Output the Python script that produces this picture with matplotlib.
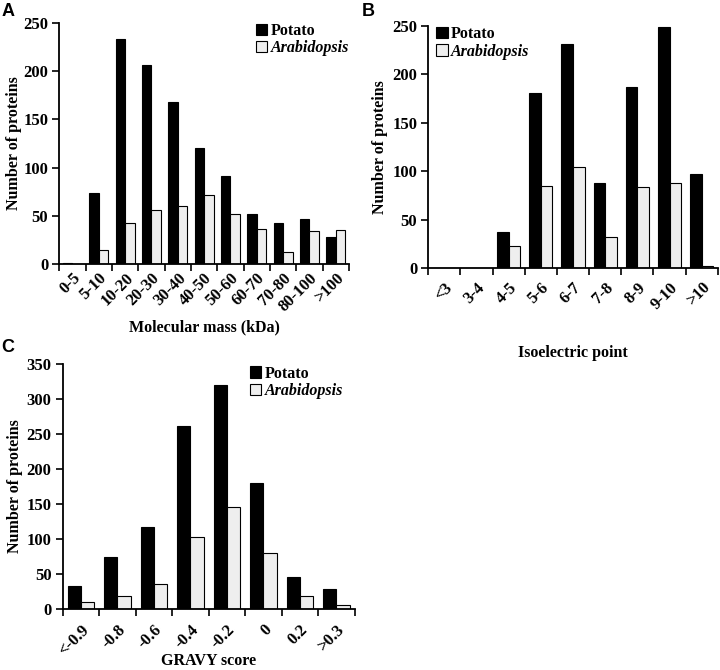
import matplotlib
matplotlib.use("Agg")
import matplotlib.pyplot as plt
import numpy as np
from matplotlib.patches import Patch

# ---------------- data ----------------
mass_cats = ["0-5", "5-10", "10-20", "20-30", "30-40", "40-50", "50-60",
             "60-70", "70-80", "80-100", ">100"]
mass_potato = [1, 74, 233, 206, 168, 120, 91, 52, 43, 47, 28]
mass_arab = [0, 15, 43, 56, 60, 72, 52, 37, 13, 34, 35]

pi_cats = ["<3", "3-4", "4-5", "5-6", "6-7", "7-8", "8-9", "9-10", ">10"]
pi_potato = [0, 0, 37, 181, 231, 88, 187, 249, 97]
pi_arab = [0, 0, 23, 85, 105, 32, 84, 88, 2]

gravy_cats = ["<-0.9", "-0.8", "-0.6", "-0.4", "-0.2", "0", "0.2", ">0.3"]
gravy_potato = [33, 74, 117, 261, 321, 180, 45, 28]
gravy_arab = [10, 18, 35, 102, 146, 80, 18, 6]

series_names = ["Potato", "Arabidopsis"]

SERIF = "Liberation Serif"
GRAY = "#eeeeee"

fig = plt.figure(figsize=(7.2, 6.7), dpi=100)


def panel(rect, cats, pot, arab, ymax, ystep, xlabel, letter, letter_pos,
          leg_anchor, leg_loc, xpad, xlab_y, ylab_x):
    ax = fig.add_axes(rect)
    n = len(cats)
    x = np.arange(n)
    w = 0.36
    ax.bar(x - w / 2, pot, width=w, color="black", edgecolor="black", linewidth=0.8)
    ax.bar(x + w / 2, arab, width=w, color=GRAY, edgecolor="black", linewidth=0.8)
    ax.set_xlim(-0.5, n - 0.5)
    ax.set_ylim(0, ymax)
    for s in ["top", "right"]:
        ax.spines[s].set_visible(False)
    for s in ["left", "bottom"]:
        ax.spines[s].set_linewidth(1.3)
    ax.set_yticks(np.arange(0, ymax + 1, ystep))
    ax.tick_params(axis="y", direction="out", length=5, width=1.2, pad=3)
    ax.set_xticks(np.arange(-0.5, n, 1.0))
    ax.set_xticklabels([])
    ax.set_xticks(x, minor=True)
    ax.set_xticklabels(cats, minor=True, rotation=45, ha="right", va="top",
                       rotation_mode="anchor")
    ax.tick_params(axis="x", which="major", direction="out", length=5, width=1.2)
    ax.tick_params(axis="x", which="minor", length=0, pad=xpad)
    for lab in ax.get_yticklabels() + ax.get_xticklabels(minor=True):
        lab.set_fontfamily(SERIF)
        lab.set_fontweight("bold")
        lab.set_fontsize(12)
    ax.set_xlabel(xlabel, fontfamily=SERIF, fontweight="bold", fontsize=11.5)
    ax.xaxis.set_label_coords(0.5, xlab_y)
    ax.set_ylabel("Number of proteins", fontfamily=SERIF, fontweight="bold", fontsize=11.5)
    ax.yaxis.set_label_coords(ylab_x, 0.5)
    ax.yaxis.label.set_va("center")
    ax.xaxis.label.set_va("center")
    handles = [Patch(facecolor="black", edgecolor="black", linewidth=0.8),
               Patch(facecolor=GRAY, edgecolor="black", linewidth=0.8)]
    leg = ax.legend(handles, series_names, loc=leg_loc, bbox_to_anchor=leg_anchor,
                    frameon=False, handlelength=0.7, handleheight=0.7,
                    handletextpad=0.2, labelspacing=0.1, borderaxespad=0,
                    borderpad=0,
                    prop={"family": SERIF, "weight": "bold", "size": 11.5})
    leg.get_texts()[1].set_style("italic")
    fig.text(letter_pos[0], letter_pos[1], letter, fontfamily="Liberation Sans",
             fontweight="bold", fontsize=13, ha="left", va="top")
    return ax


panel([0.0824, 0.6055, 0.4023, 0.3606], mass_cats, mass_potato, mass_arab, 250, 50,
      "Molecular mass (kDa)", "A", (0.002, 0.996), (1.0, 1.0), "upper right",
      4, -0.262, -0.156)
panel([0.5949, 0.5996, 0.4020, 0.3616], pi_cats, pi_potato, pi_arab, 250, 50,
      "Isoelectric point", "B", (0.502, 0.996), (0.028, 1.0), "upper left",
      8, -0.35, -0.167)
panel([0.0871, 0.0915, 0.4056, 0.3648], gravy_cats, gravy_potato, gravy_arab, 350, 50,
      "GRAVY score", "C", (0.002, 0.494), (0.96, 0.995), "upper right",
      9.5, -0.215, -0.163)

fig.savefig("out.png", dpi=100)
